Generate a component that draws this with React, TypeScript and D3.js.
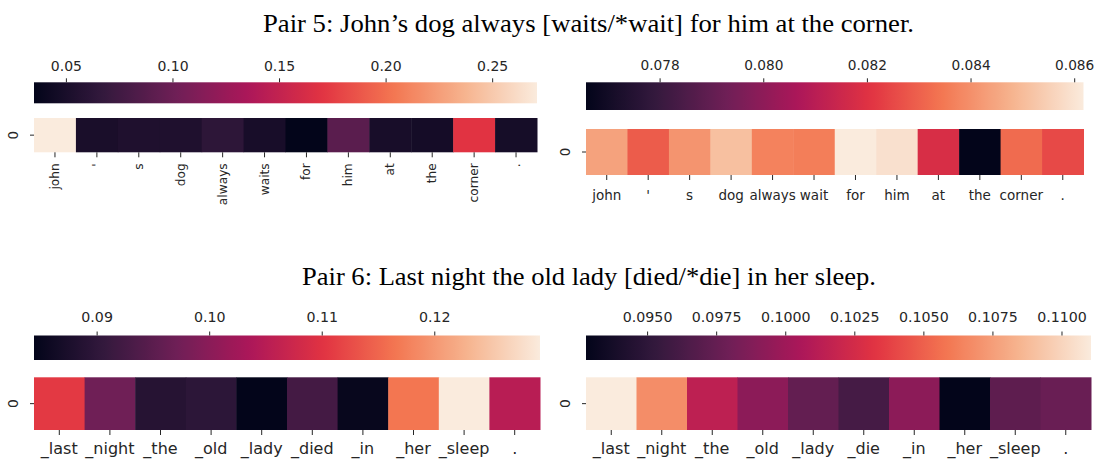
import React from 'react';
import * as d3 from 'd3';

const title5 = "Pair 5: John’s dog always [waits/*wait] for him at the corner.";
const title6 = "Pair 6: Last night the old lady [died/*die] in her sleep.";

const tokensA = ["john", "'", "s", "dog", "always", "waits", "for", "him", "at", "the", "corner", "."];
const valuesA = [0.2708, 0.0501, 0.0537, 0.0537, 0.0631, 0.0490, 0.0348, 0.0898, 0.0490, 0.0466, 0.1696, 0.0478];
const ticksA = [0.05, 0.10, 0.15, 0.20, 0.25];

const tokensB = ["john", "'", "s", "dog", "always", "wait", "for", "him", "at", "the", "corner", "."];
const valuesB = [0.0844, 0.0829, 0.0841, 0.0851, 0.0837, 0.0836, 0.08617, 0.0859, 0.0818, 0.07657, 0.0832, 0.0825];
const ticksB = [0.078, 0.080, 0.082, 0.084, 0.086];

const tokensC = ["_last", "_night", "_the", "_old", "_lady", "_died", "_in", "_her", "_sleep", "."];
const valuesC = [0.1107, 0.0971, 0.0889, 0.0897, 0.08439, 0.0924, 0.0850, 0.1165, 0.12935, 0.1050];
const ticksC = [0.09, 0.10, 0.11, 0.12];

const tokensD = ["_last", "_night", "_the", "_old", "_lady", "_die", "_in", "_her", "_sleep", "."];
const valuesD = [0.11105, 0.1068, 0.1014, 0.0992, 0.0974, 0.0961, 0.0992, 0.09277, 0.0972, 0.0977];
const ticksD = [0.0950, 0.0975, 0.1000, 0.1025, 0.1050, 0.1075, 0.1100];

const rocketStops = ["#03051a", "#35193e", "#701f57", "#ad1759", "#e13342", "#f37651", "#f6b48f", "#faebdd"];
const rocket = d3.piecewise(d3.interpolateRgb, rocketStops);

const panels = [
  { id: 'A', tokens: tokensA, values: valuesA, ticks: ticksA, fmt: '.2f', x0: 34, x1: 537, cb0: 82.3, cb1: 103.3, hm0: 118, hm1: 152.3, rotate: true, tickBase: 71, labY: 0, tickFs: 14, labFs: 12.2, yFs: 13.5 },
  { id: 'B', tokens: tokensB, values: valuesB, ticks: ticksB, fmt: '.3f', x0: 586, x1: 1083.5, cb0: 82.3, cb1: 110, hm0: 129, hm1: 175, rotate: false, tickBase: 70, labY: 200, tickFs: 13.7, labFs: 13.5, yFs: 13.5 },
  { id: 'C', tokens: tokensC, values: valuesC, ticks: ticksC, fmt: '.2f', x0: 34, x1: 540, cb0: 335.5, cb1: 360, hm0: 377.3, hm1: 430, rotate: false, tickBase: 321.7, labY: 453.5, tickFs: 14.2, labFs: 16, yFs: 14 },
  { id: 'D', tokens: tokensD, values: valuesD, ticks: ticksD, fmt: '.4f', x0: 586, x1: 1091, cb0: 335.5, cb1: 360, hm0: 377.3, hm1: 430, rotate: false, tickBase: 321.7, labY: 453.5, tickFs: 14.2, labFs: 16, yFs: 14 },
];

const FONT = "DejaVu Sans";
const TXT = "#262626";

function Panel({ p }: { p: any }) {
  const [vmin, vmax] = d3.extent(p.values as number[]) as [number, number];
  const color = d3.scaleSequential(rocket).domain([vmin, vmax]);
  const cbX = d3.scaleLinear().domain([vmin, vmax]).range([p.x0, p.x1]);
  const band = d3.scaleBand<number>().domain(d3.range(p.tokens.length)).range([p.x0, p.x1]);
  const fmt = d3.format(p.fmt);
  const gid = 'grad' + p.id;
  const stops = d3.range(0, 1.0001, 1 / 64);
  const hmMid = (p.hm0 + p.hm1) / 2;
  return (
    <g>
      <defs>
        <linearGradient id={gid} x1="0" x2="1" y1="0" y2="0">
          {stops.map((t, i) => (
            <stop key={i} offset={t} stopColor={rocket(t)} />
          ))}
        </linearGradient>
      </defs>
      <rect x={p.x0} y={p.cb0} width={p.x1 - p.x0} height={p.cb1 - p.cb0} fill={`url(#${gid})`} />
      {p.ticks.map((t: number, i: number) => (
        <g key={i}>
          <line x1={cbX(t)} x2={cbX(t)} y1={p.cb0 - 4} y2={p.cb0} stroke={TXT} strokeWidth={1} />
          <text x={cbX(t)} y={p.tickBase} textAnchor="middle" fontFamily={FONT} fontSize={p.tickFs} fill={TXT}>{fmt(t)}</text>
        </g>
      ))}
      {p.values.map((v: number, i: number) => (
        <rect key={i} x={band(i)} y={p.hm0} width={band.bandwidth() + 0.5} height={p.hm1 - p.hm0} fill={color(v)} />
      ))}
      {p.tokens.map((tok: string, i: number) => {
        const cx = (band(i) as number) + band.bandwidth() / 2;
        return (
          <g key={i}>
            <line x1={cx} x2={cx} y1={p.hm1} y2={p.hm1 + 5} stroke={TXT} strokeWidth={1} />
            {p.rotate ? (
              <text transform={`translate(${cx},${p.hm1 + 11}) rotate(-90)`} textAnchor="end" dominantBaseline="central" fontFamily={FONT} fontSize={p.labFs} fill={TXT}>{tok}</text>
            ) : (
              <text x={cx} y={p.labY} textAnchor="middle" fontFamily={FONT} fontSize={p.labFs} fill={TXT}>{tok}</text>
            )}
          </g>
        );
      })}
      <line x1={p.x0 - 4} x2={p.x0} y1={hmMid} y2={hmMid} stroke={TXT} strokeWidth={1} />
      <text transform={`translate(${p.x0 - 21},${hmMid}) rotate(-90)`} textAnchor="middle" dominantBaseline="central" fontFamily={FONT} fontSize={p.yFs} fill={TXT}>0</text>
    </g>
  );
}

export default function App() {
  return (
    <svg width={1094} height={460} style={{ position: 'absolute', left: 0, top: 0, background: '#fff' }}>
      <rect x={0} y={0} width={1094} height={460} fill="#fff" />
      <text x={263} y={31.7} textLength={651} lengthAdjust="spacingAndGlyphs" fontFamily="Liberation Serif" fontSize={25} fill="#000">{title5}</text>
      <text x={302} y={285} textLength={574} lengthAdjust="spacingAndGlyphs" fontFamily="Liberation Serif" fontSize={25} fill="#000">{title6}</text>
      {panels.map((p) => (
        <Panel key={p.id} p={p} />
      ))}
    </svg>
  );
}
